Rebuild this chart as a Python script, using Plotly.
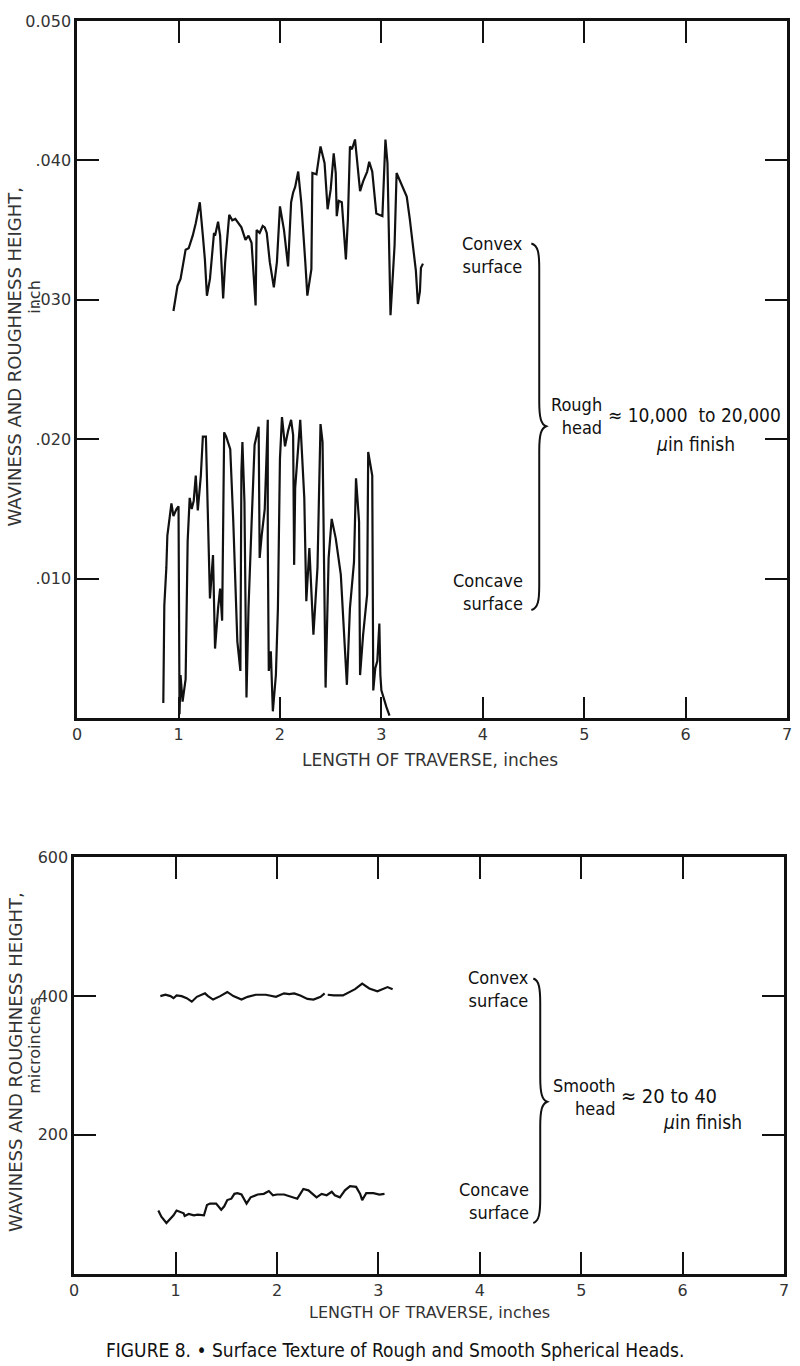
import plotly.graph_objects as go

# ---------------- data ----------------
# Rough head, convex surface (inch vs inch)
rough_convex_x = [0.95, 0.99, 1.02, 1.07, 1.10, 1.14, 1.17, 1.21, 1.24, 1.26, 1.28, 1.31, 1.35, 1.36, 1.39,
                  1.41, 1.44, 1.46, 1.50, 1.53, 1.56, 1.59, 1.62, 1.66, 1.69, 1.72, 1.74, 1.76, 1.77, 1.80,
                  1.83, 1.85, 1.87, 1.90, 1.94, 1.97, 2.00, 2.04, 2.08, 2.11, 2.13, 2.15, 2.18, 2.21, 2.25,
                  2.27, 2.31, 2.32, 2.36, 2.40, 2.44, 2.47, 2.50, 2.53, 2.55, 2.56, 2.58, 2.61, 2.65, 2.67,
                  2.69, 2.71, 2.74, 2.79, 2.82, 2.86, 2.88, 2.91, 2.95, 3.01, 3.04, 3.06, 3.09, 3.13, 3.15,
                  3.20, 3.25, 3.28, 3.31, 3.34, 3.36, 3.38, 3.39, 3.41]
rough_convex_y = [0.0292, 0.0310, 0.0315, 0.0336, 0.0337, 0.0346, 0.0355, 0.0370, 0.0346, 0.0329, 0.0303,
                  0.0315, 0.0348, 0.0346, 0.0356, 0.0346, 0.0301, 0.0327, 0.0361, 0.0357, 0.0358, 0.0355,
                  0.0352, 0.0343, 0.0346, 0.0341, 0.0317, 0.0296, 0.0350, 0.0348, 0.0353, 0.0352, 0.0348,
                  0.0327, 0.0309, 0.0327, 0.0367, 0.0350, 0.0324, 0.0370, 0.0377, 0.0381, 0.0392, 0.0370,
                  0.0327, 0.0303, 0.0322, 0.0391, 0.0390, 0.0410, 0.0398, 0.0365, 0.0379, 0.0405, 0.0391,
                  0.0360, 0.0371, 0.0370, 0.0329, 0.0358, 0.0410, 0.0408, 0.0415, 0.0378, 0.0385, 0.0392,
                  0.0399, 0.0392, 0.0362, 0.0360, 0.0415, 0.0398, 0.0289, 0.0339, 0.0391, 0.0383, 0.0374,
                  0.0358, 0.0339, 0.0321, 0.0297, 0.0306, 0.0323, 0.0326]

# Rough head, concave surface
rough_concave_x = [0.85, 0.86, 0.88, 0.89, 0.93, 0.95, 0.98, 1.00, 1.01, 1.02, 1.04, 1.07, 1.09, 1.11, 1.13,
                   1.15, 1.17, 1.19, 1.22, 1.24, 1.27, 1.31, 1.34, 1.36, 1.39, 1.41, 1.43, 1.45, 1.47, 1.51,
                   1.54, 1.58, 1.61, 1.62, 1.63, 1.65, 1.67, 1.69, 1.72, 1.75, 1.79, 1.80, 1.82, 1.85, 1.88,
                   1.88, 1.89, 1.91, 1.93, 1.96, 1.98, 2.00, 2.02, 2.05, 2.08, 2.11, 2.13, 2.14, 2.15, 2.18,
                   2.20, 2.24, 2.26, 2.29, 2.33, 2.37, 2.40, 2.42, 2.45, 2.48, 2.51, 2.55, 2.60, 2.66, 2.69,
                   2.73, 2.75, 2.78, 2.79, 2.82, 2.86, 2.87, 2.91, 2.92, 2.94, 2.96, 2.98, 2.99, 3.00, 3.05,
                   3.08]
rough_concave_y = [0.0011, 0.0081, 0.0108, 0.0131, 0.0154, 0.0145, 0.0150, 0.0152, 0.0003, 0.0031, 0.0012,
                   0.0028, 0.0127, 0.0158, 0.0150, 0.0156, 0.0174, 0.0149, 0.0174, 0.0202, 0.0202, 0.0086,
                   0.0117, 0.0050, 0.0079, 0.0093, 0.0070, 0.0205, 0.0202, 0.0193, 0.0141, 0.0055, 0.0034,
                   0.0177, 0.0198, 0.0155, 0.0015, 0.0079, 0.0139, 0.0196, 0.0209, 0.0115, 0.0131, 0.0150,
                   0.0214, 0.0127, 0.0034, 0.0048, 0.0005, 0.0031, 0.0079, 0.0186, 0.0216, 0.0195, 0.0206,
                   0.0214, 0.0203, 0.0110, 0.0165, 0.0198, 0.0214, 0.0158, 0.0084, 0.0122, 0.0060, 0.0108,
                   0.0211, 0.0198, 0.0022, 0.0115, 0.0143, 0.0129, 0.0103, 0.0024, 0.0079, 0.0112, 0.0172,
                   0.0141, 0.0031, 0.0060, 0.0089, 0.0191, 0.0174, 0.0020, 0.0036, 0.0041, 0.0068, 0.0031,
                   0.0020, 0.0008, 0.0002]

# Smooth head, convex surface (microinches)
smooth_convex_x = [0.85, 0.90, 0.95, 0.98, 1.01, 1.06, 1.11, 1.16, 1.21, 1.29, 1.32, 1.37, 1.44, 1.51, 1.57,
                   1.65, 1.71, 1.79, 1.89, 1.99, 2.07, 2.12, 2.17, 2.23, 2.30, 2.36, 2.43, 2.47, None,
                   2.50, 2.56, 2.65, 2.72, 2.77, 2.84, 2.91, 2.99, 3.04, 3.09, 3.14]
smooth_convex_y = [400, 402, 400, 397, 401, 400, 397, 392, 399, 404, 400, 395, 400, 406, 400,
                   395, 399, 402, 402, 399, 404, 403, 404, 401, 396, 395, 399, 404, None,
                   402, 401, 401, 406, 410, 418, 411, 407, 410, 413, 410]

# Smooth head, concave surface
smooth_concave_x = [0.83, 0.86, 0.91, 0.95, 0.98, 1.01, 1.05, 1.08, 1.09, 1.13, 1.18, 1.22, 1.28, 1.31, 1.34,
                    1.40, 1.45, 1.48, 1.51, 1.55, 1.58, 1.61, 1.65, 1.68, 1.70, 1.74, 1.81, 1.87, 1.92, 1.96,
                    2.00, 2.07, 2.13, 2.20, 2.23, 2.26, 2.31, 2.35, 2.39, 2.44, 2.49, 2.54, 2.57, 2.62, 2.67,
                    2.72, 2.78, 2.82, 2.84, 2.88, 2.95, 3.01, 3.06]
smooth_concave_y = [91, 82, 73, 80, 84, 91, 89, 87, 83, 86, 84, 85, 84, 99, 101,
                    101, 92, 97, 106, 108, 115, 116, 114, 106, 101, 110, 114, 115, 119, 113,
                    114, 114, 111, 108, 115, 122, 120, 115, 110, 115, 113, 118, 113, 110, 120,
                    126, 125, 115, 106, 116, 116, 114, 115]

x_ticks = [0, 1, 2, 3, 4, 5, 6, 7]
x_tick_labels = ["0", "1", "2", "3", "4", "5", "6", "7"]
top_y_ticks = [0.010, 0.020, 0.030, 0.040, 0.050]
top_y_labels = [".010", ".020", ".030", ".040", "0.050"]
bot_y_ticks = [200, 400, 600]
bot_y_labels = ["200", "400", "600"]

# ---------------- figure ----------------
W, H = 800, 1366
FONT = "Liberation Sans Narrow, DejaVu Sans Condensed, Roboto Condensed, Arial Narrow, sans-serif"
TICKFONT = "DejaVu Sans, Liberation Sans, sans-serif"
INK = "#111111"


def px(x):
    return x / W


def py(y):
    return (H - y) / H


fig = go.Figure()
line = dict(color=INK, width=2.2)
fig.add_trace(go.Scatter(x=rough_convex_x, y=rough_convex_y, mode="lines", line=line,
                         xaxis="x", yaxis="y", showlegend=False))
fig.add_trace(go.Scatter(x=rough_concave_x, y=rough_concave_y, mode="lines", line=line,
                         xaxis="x", yaxis="y", showlegend=False))
fig.add_trace(go.Scatter(x=smooth_convex_x, y=smooth_convex_y, mode="lines", line=line,
                         xaxis="x2", yaxis="y2", showlegend=False, connectgaps=False))
fig.add_trace(go.Scatter(x=smooth_concave_x, y=smooth_concave_y, mode="lines", line=line,
                         xaxis="x2", yaxis="y2", showlegend=False))

axis_common = dict(showgrid=False, zeroline=False, showline=True, linecolor=INK, linewidth=2.5,
                   mirror="ticks", ticks="inside", ticklen=22, tickwidth=2, tickcolor=INK,
                   tickfont=dict(family=TICKFONT, size=16, color="#333333"))

fig.update_layout(
    width=W, height=H,
    margin=dict(l=0, r=0, t=0, b=0),
    paper_bgcolor="white", plot_bgcolor="white",
    xaxis=dict(domain=[px(73), px(792)], range=[0, 7], anchor="y",
               tickvals=x_ticks, ticktext=x_tick_labels, **axis_common),
    yaxis=dict(domain=[py(714), py(12)], range=[0, 0.050], anchor="x",
               tickvals=top_y_ticks, ticktext=top_y_labels, **axis_common),
    xaxis2=dict(domain=[px(70), px(789)], range=[0, 7], anchor="y2",
                tickvals=x_ticks, ticktext=x_tick_labels, **axis_common),
    yaxis2=dict(domain=[py(1273), py(854)], range=[0, 600], anchor="x2",
                tickvals=bot_y_ticks, ticktext=bot_y_labels, **axis_common),
)

ann = []


def add_text(text, x, y, size=17, xanchor="center", yanchor="middle", align="center",
             angle=0, family=FONT, color=INK):
    ann.append(dict(text=text, x=px(x), y=py(y), xref="paper", yref="paper",
                    xanchor=xanchor, yanchor=yanchor, align=align, textangle=angle,
                    showarrow=False, font=dict(family=family, size=size, color=color)))


GREY = "#333333"
# axis titles
add_text("WAVINESS AND ROUGHNESS HEIGHT,", 10, 350, size=18, angle=-90, family=TICKFONT, color=GREY)
add_text("inch", 29, 290, size=16, angle=-90, family=TICKFONT, color=GREY)
add_text("LENGTH OF TRAVERSE, inches", 430, 756, size=17, family=TICKFONT, color=GREY)

add_text("WAVINESS AND ROUGHNESS HEIGHT,", 10, 1060, size=18, angle=-90, family=TICKFONT, color=GREY)
add_text("microinches", 29, 1043, size=16, angle=-90, family=TICKFONT, color=GREY)
add_text("LENGTH OF TRAVERSE, inches", 430, 1312, size=16, family=TICKFONT, color=GREY)

# top annotations
add_text("Convex<br>surface", 527, 248, size=18, xanchor="right", align="right")
add_text("Concave<br>surface", 527, 587, size=18, xanchor="right", align="right")
add_text("Rough<br>head", 607, 410, size=18, xanchor="right", align="right")
add_text("\u2248 10,000  to 20,000", 609, 409, size=19, xanchor="left", align="left")
add_text("<i>\u03bc</i>in finish", 657, 438, size=19, xanchor="left", align="left")

# bottom annotations
add_text("Convex<br>surface", 533, 987, size=18, xanchor="right", align="right")
add_text("Concave<br>surface", 533, 1200, size=18, xanchor="right", align="right")
add_text("Smooth<br>head", 620, 1095, size=18, xanchor="right", align="right")
add_text("\u2248 20 to 40", 622, 1094, size=20, xanchor="left", align="left")
add_text("<i>\u03bc</i>in finish", 664, 1120, size=19, xanchor="left", align="left")

# caption
add_text("FIGURE 8. \u2022 Surface Texture of Rough and Smooth Spherical Heads.", 395, 1350, size=19)

fig.update_layout(annotations=ann)


def brace_path(x_arm, x_tip, x_end, y_top, y_tip, y_bot):
    pts = [
        ("M", [(x_end, y_top)]),
        ("C", [(x_arm - 1, y_top + 2), (x_arm, y_top + 10), (x_arm, y_top + 25)]),
        ("L", [(x_arm, y_tip - 25)]),
        ("C", [(x_arm, y_tip - 8), (x_arm + 2, y_tip - 2), (x_tip, y_tip)]),
        ("C", [(x_arm + 2, y_tip + 2), (x_arm, y_tip + 8), (x_arm, y_tip + 25)]),
        ("L", [(x_arm, y_bot - 25)]),
        ("C", [(x_arm, y_bot - 10), (x_arm - 1, y_bot - 2), (x_end, y_bot)]),
    ]
    s = ""
    for cmd, ps in pts:
        s += cmd + " " + " ".join(f"{px(a):.5f},{py(b):.5f}" for a, b in ps) + " "
    return s.strip()


fig.add_shape(type="path", xref="paper", yref="paper",
              path=brace_path(541, 548, 533, 236, 420, 605),
              line=dict(color=INK, width=2))
fig.add_shape(type="path", xref="paper", yref="paper",
              path=brace_path(542, 549, 535, 976, 1100, 1222),
              line=dict(color=INK, width=2))

fig.write_html("out.html")
